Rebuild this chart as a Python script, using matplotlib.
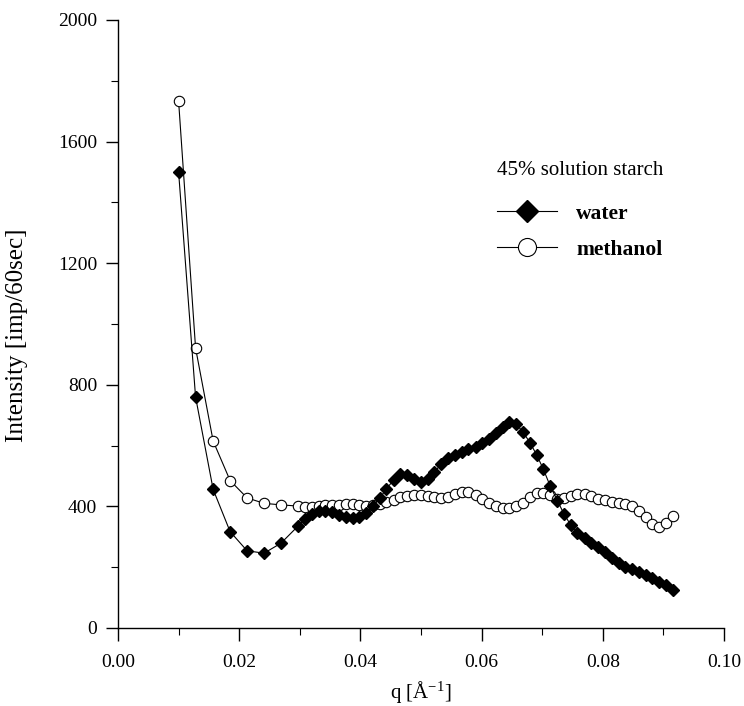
import matplotlib
matplotlib.use("Agg")
import matplotlib.pyplot as plt
from matplotlib.ticker import MultipleLocator, FormatStrFormatter
from matplotlib.lines import Line2D

plt.rcParams['font.family'] = ['Liberation Serif', 'DejaVu Serif']
plt.rcParams['mathtext.fontset'] = 'stix'

q = [0.0100, 0.0128, 0.0157, 0.0185, 0.0213, 0.0241, 0.0269,
     0.0297, 0.0308, 0.0320, 0.0331, 0.0342, 0.0353, 0.0365, 0.0376, 0.0387, 0.0398,
     0.0410, 0.0421, 0.0432, 0.0443, 0.0455, 0.0466, 0.0477, 0.0488, 0.0500, 0.0511,
     0.0522, 0.0533, 0.0545, 0.0556, 0.0567, 0.0578, 0.0590, 0.0601, 0.0612, 0.0623,
     0.0635, 0.0646, 0.0657, 0.0668, 0.0680, 0.0691, 0.0702, 0.0713, 0.0725, 0.0736,
     0.0747, 0.0758, 0.0770, 0.0781, 0.0792, 0.0803, 0.0815, 0.0826, 0.0837, 0.0848,
     0.0860, 0.0871, 0.0882, 0.0893, 0.0905, 0.0916]

water = [1500, 760, 456, 317, 254, 246, 279,
         335, 357, 375, 385, 386, 381, 372, 364, 363, 366,
         379, 401, 427, 458, 487, 505, 502, 489, 479, 490,
         512, 539, 558, 570, 578, 589, 596, 607, 621, 641,
         662, 679, 670, 646, 609, 569, 522, 468, 419, 375,
         339, 311, 295, 279, 267, 251, 229, 213, 202, 193,
         185, 174, 163, 152, 141, 125]

methanol = [1733, 921, 615, 485, 428, 410, 405,
            401, 399, 399, 401, 404, 405, 406, 407, 407, 405,
            401, 405, 408, 416, 422, 430, 434, 437, 437, 435,
            430, 427, 432, 441, 448, 446, 437, 424, 412, 401,
            396, 396, 401, 412, 432, 443, 445, 437, 424, 428,
            435, 440, 440, 434, 425, 420, 416, 412, 407, 401,
            386, 364, 342, 332, 344, 370]

legend_title = "45% solution starch"
series_names = ["water", "methanol"]

fig = plt.figure(figsize=(7.44, 7.06), dpi=100)
ax = fig.add_axes([0.1586, 0.1105, 0.8145, 0.8612])

ax.plot(q, water, color='black', lw=0.8, marker='D', markersize=6,
        markerfacecolor='black', markeredgecolor='black', zorder=3)
ax.plot(q, methanol, color='black', lw=0.8, marker='o', markersize=7.5,
        markerfacecolor='white', markeredgecolor='black', markeredgewidth=0.8, zorder=2)

ax.set_xlim(0, 0.10)
ax.set_ylim(0, 2000)
ax.spines['top'].set_visible(False)
ax.spines['right'].set_visible(False)
ax.spines['left'].set_linewidth(1.0)
ax.spines['bottom'].set_linewidth(1.0)

ax.xaxis.set_major_locator(MultipleLocator(0.02))
ax.xaxis.set_minor_locator(MultipleLocator(0.01))
ax.xaxis.set_major_formatter(FormatStrFormatter('%.2f'))
ax.yaxis.set_major_locator(MultipleLocator(400))
ax.yaxis.set_minor_locator(MultipleLocator(200))

ax.tick_params(axis='both', which='major', direction='out', length=9, width=1.0,
               labelsize=14, pad=6)
ax.tick_params(axis='x', which='major', pad=10)
ax.tick_params(axis='both', which='minor', direction='out', length=5, width=0.8)

ax.set_ylabel("Intensity [imp/60sec]", fontsize=18)
ax.yaxis.set_label_coords(-0.148, 0.482)
ax.set_xlabel(r"q [Å$^{\mathregular{-1}}$]", fontsize=15, labelpad=6)

ax.text(0.625, 0.753, legend_title, transform=ax.transAxes, fontsize=15,
        ha='left', va='center')

handles = [Line2D([], [], color='black', lw=0.8, marker='D', markersize=11,
                  markerfacecolor='black'),
           Line2D([], [], color='black', lw=0.8, marker='o', markersize=13,
                  markerfacecolor='white', markeredgewidth=0.8)]
leg = ax.legend(handles, series_names, loc='upper left',
                bbox_to_anchor=(0.625, 0.698), frameon=False, fontsize=15.5,
                handlelength=2.8, handletextpad=0.9,
                labelspacing=0.75, borderaxespad=0.0, borderpad=0.0)
for t in leg.get_texts():
    t.set_fontweight('bold')

fig.savefig("out.png", dpi=100)
